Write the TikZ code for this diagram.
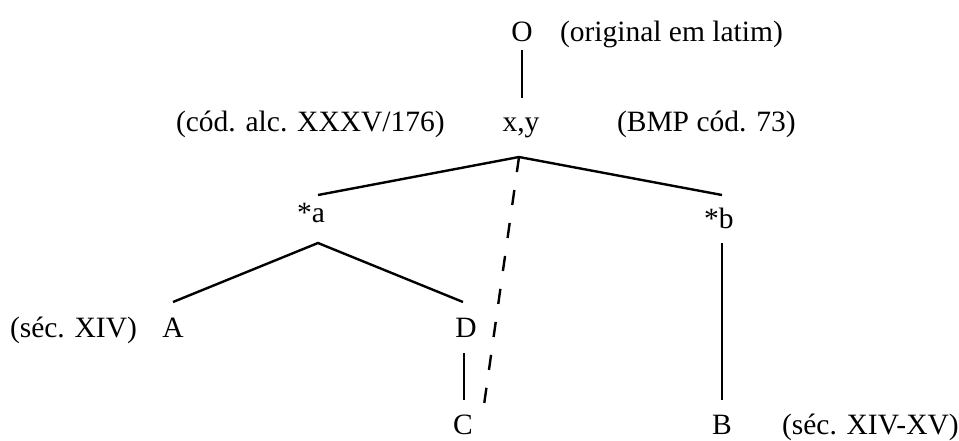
\documentclass[tikz,border=0pt]{standalone}
\usepackage{fontspec}
\setmainfont{Liberation Serif}
\begin{document}
\begin{tikzpicture}[x=1pt,y=-1pt,
  lbl/.style={inner sep=0pt,outer sep=0pt,anchor=base,font=\fontsize{29.5}{35}\selectfont},
  lblw/.style={lbl,anchor=base west},
  edge/.style={line width=2.4pt},
  dashedge/.style={line width=2.4pt,dash pattern=on 15.2pt off 18.1pt}]
\useasboundingbox (0,0) rectangle (959,440);
% nodes
\node[lbl]  (O)    at (522,41)  {O};
\node[lblw] (Olab) at (560,41)  {(original em latim)};
\node[lbl]  (xy)   at (521,131) {x,y};
\node[lblw] (xylab) at (176,131) {(cód. alc. XXXV/176)};
\node[lblw] (bmp)  at (617,131) {(BMP cód. 73)};
\node[lblw] (a)    at (297,222) {*a};
\node[lblw] (b)    at (704,228) {*b};
\node[lbl]  (A)    at (173,337) {A};
\node[lblw] (Alab) at (10,337)  {(séc. XIV)};
\node[lbl]  (D)    at (466,337) {D};
\node[lbl]  (C)    at (463,434) {C};
\node[lbl]  (B)    at (722,434) {B};
\node[lblw] (Blab) at (782,434) {(séc. XIV-XV)};
% connector end points
\coordinate (Obot) at (522,50);
\coordinate (xytop) at (522,98);
\coordinate (apex) at (519,157);
\coordinate (atop) at (318,195);
\coordinate (abot) at (318,243);
\coordinate (btop) at (722,195);
\coordinate (bbot) at (722,243);
\coordinate (Atop) at (173,302);
\coordinate (Dtop) at (463,302);
\coordinate (Dbot) at (464,353);
\coordinate (Ctop) at (464,400);
\coordinate (Btop) at (722,400);
\coordinate (Cdash) at (484,405);
% connectors
\draw[edge] (Obot) -- (xytop);
\draw[edge] (atop) -- (apex) -- (btop);
\draw[edge] (Atop) -- (abot) -- (Dtop);
\draw[edge] (Dbot) -- (Ctop);
\draw[edge] (bbot) -- (Btop);
\draw[dashedge] (apex) -- (Cdash);
\end{tikzpicture}
\end{document}
